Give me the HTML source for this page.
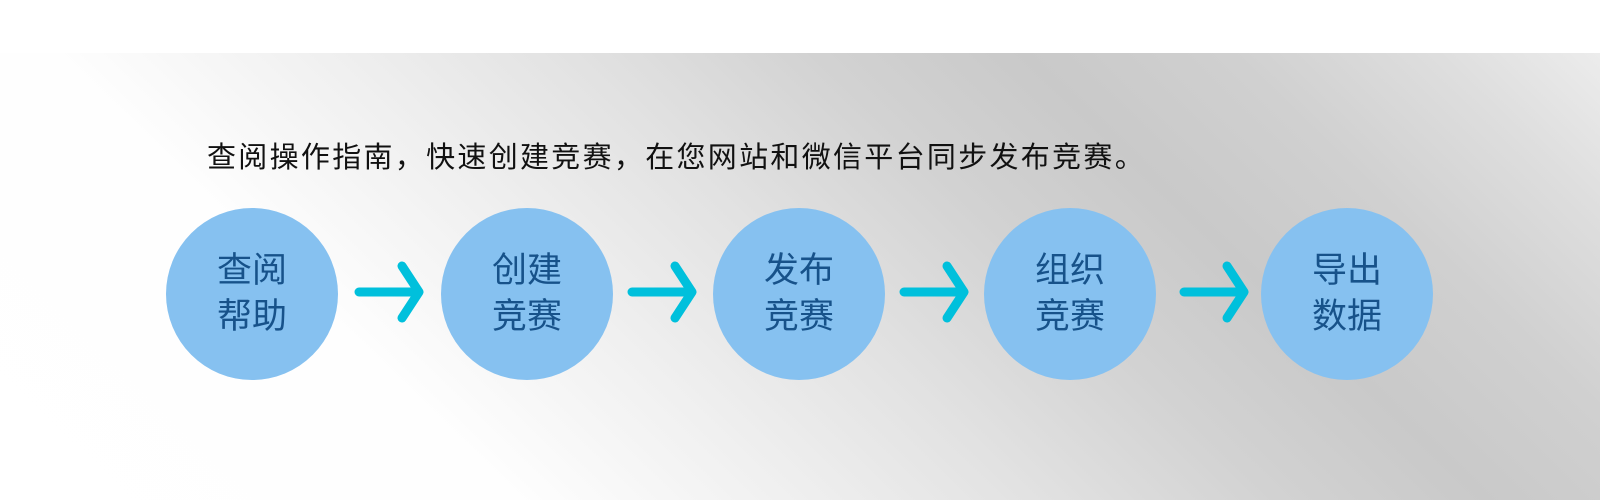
<!DOCTYPE html>
<html><head><meta charset="utf-8"><style>
html,body{margin:0;padding:0;}
body{width:1600px;height:500px;position:relative;overflow:hidden;background:#fff;font-family:"Liberation Sans","Noto Sans CJK SC",sans-serif;}
.bg{position:absolute;left:0;top:53px;width:1600px;height:447px;background:linear-gradient(44deg,#ffffff 0%,#fefefe 25%,#f0f0f0 38%,#e2e2e2 50%,#d2d2d2 62%,#c9c9c9 72%,#d0d0d0 82%,#dedede 92%,#ececec 100%);}
.title{position:absolute;left:207px;top:140px;font-size:29px;letter-spacing:2.3px;color:#111;white-space:nowrap;line-height:36px;}
.c{position:absolute;width:172px;height:172px;border-radius:50%;background:#86c1f0;color:#17528a;font-size:35px;line-height:46px;text-align:center;display:flex;align-items:center;justify-content:center;}
svg{position:absolute;left:0;top:0;}
</style></head><body>
<div class="bg"></div>
<div class="title">查阅操作指南，快速创建竞赛，在您网站和微信平台同步发布竞赛。</div>
<div class="c" style="left:166px;top:208px;">查阅<br>帮助</div>
<div class="c" style="left:441px;top:208px;">创建<br>竞赛</div>
<div class="c" style="left:713px;top:208px;">发布<br>竞赛</div>
<div class="c" style="left:984px;top:208px;">组织<br>竞赛</div>
<div class="c" style="left:1261px;top:208px;">导出<br>数据</div>
<svg width="1600" height="500">
<g stroke="#00c0dc" stroke-width="9" stroke-linecap="round" stroke-linejoin="round" fill="none">
<path d="M359 292H416M402 266L419 292L402 318"/>
<path d="M632 292H689M675 266L692 292L675 318"/>
<path d="M904 292H961M947 266L964 292L947 318"/>
<path d="M1184 292H1241M1227 266L1244 292L1227 318"/>
</g></svg>
</body></html>
